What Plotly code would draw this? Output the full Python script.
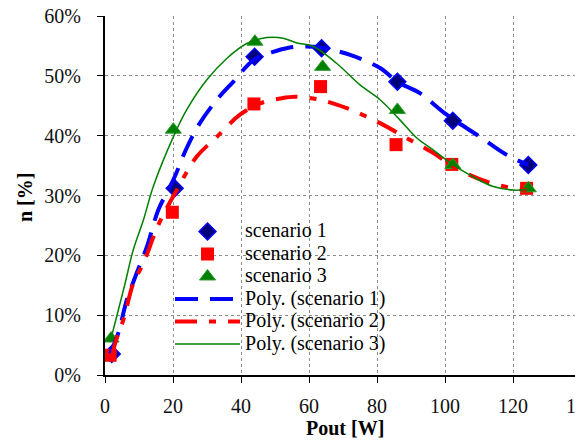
import plotly.graph_objects as go

# ---- data ----
s1_x = [2, 20.5, 44, 63.7, 86, 102.3, 124.5]
s1_y = [0.035, 0.312, 0.532, 0.546, 0.490, 0.425, 0.351]

s2_x = [1.5, 19.8, 43.8, 63.4, 85.6, 102, 124]
s2_y = [0.033, 0.272, 0.453, 0.482, 0.385, 0.352, 0.312]

s3_x = [1.8, 20.1, 44.1, 64, 86, 102.3, 124.5]
s3_y = [0.061, 0.410, 0.557, 0.515, 0.443, 0.351, 0.312]

# trendlines (Excel polynomial)
p1_x = [1.5, 3.9, 6.4, 9.3, 12.3, 15.7, 20.1, 24, 27.9, 32.9, 37.7, 43.6, 49.5, 54, 59.3, 63.7, 72.1, 80.9, 86, 92.6, 100.5, 110.3, 118.1, 124.5]
p1_y = [0.036, 0.070, 0.125, 0.170, 0.214, 0.276, 0.326, 0.379, 0.421, 0.460, 0.490, 0.526, 0.540, 0.547, 0.549, 0.547, 0.535, 0.513, 0.490, 0.471, 0.435, 0.398, 0.368, 0.351]

p2_x = [2, 3.4, 5.4, 8.3, 11.3, 15.7, 21.1, 27, 32.9, 39.7, 45.6, 51.5, 55.9, 63.2, 71.1, 80.9, 88.7, 96.6, 103.4, 112.3, 120.1, 124]
p2_y = [0.031, 0.061, 0.092, 0.153, 0.187, 0.251, 0.309, 0.365, 0.398, 0.435, 0.454, 0.462, 0.465, 0.460, 0.446, 0.421, 0.396, 0.371, 0.345, 0.323, 0.312, 0.309]

p3_x = [1.5, 3.4, 5.9, 8.3, 11.3, 14.2, 20.1, 24, 29.9, 35.8, 41.7, 47.6, 52.4, 56.4, 61.3, 68.1, 75, 80.9, 86.8, 91.7, 96.6, 102.4, 108.3, 114.2, 120.1, 124]
p3_y = [0.055, 0.097, 0.153, 0.209, 0.259, 0.315, 0.398, 0.443, 0.493, 0.529, 0.554, 0.564, 0.563, 0.555, 0.549, 0.521, 0.485, 0.460, 0.426, 0.396, 0.376, 0.351, 0.331, 0.315, 0.309, 0.310]

names = ["scenario 1", "scenario 2", "scenario 3",
         "Poly. (scenario 1)", "Poly. (scenario 2)", "Poly. (scenario 3)"]

x_title = "Pout [W]"
y_title = "n [%]"

x_ticks = [0, 20, 40, 60, 80, 100, 120, 140]
y_ticks = [0, 0.1, 0.2, 0.3, 0.4, 0.5, 0.6]

FONT = "Liberation Serif"


def lbl(t):
    return '<span style="font-size:20px">' + t + '</span>'


fig = go.Figure()
fig.add_trace(go.Scatter(x=s1_x, y=s1_y, mode="markers", name=lbl(names[0]),
                         marker=dict(symbol="diamond", size=13, color="#00007A",
                                     line=dict(color="#0000FF", width=1.5))))
fig.add_trace(go.Scatter(x=s2_x, y=s2_y, mode="markers", name=lbl(names[1]),
                         marker=dict(symbol="square", size=13, color="#FF0000",
                                     line=dict(width=0))))
fig.add_trace(go.Scatter(x=s3_x, y=s3_y, mode="markers", name=lbl(names[2]),
                         marker=dict(symbol="triangle-up", size=14, color="#008000",
                                     line=dict(color="#2E9E2E", width=1))))
fig.add_trace(go.Scatter(x=p1_x, y=p1_y, mode="lines", name=lbl(names[3]),
                         line=dict(color="#0000FF", width=4, dash="23px,12px", shape="spline")))
fig.add_trace(go.Scatter(x=p2_x, y=p2_y, mode="lines", name=lbl(names[4]),
                         line=dict(color="#FF0000", width=4, dash="22px,12px,7px,12px", shape="spline")))
fig.add_trace(go.Scatter(x=p3_x, y=p3_y, mode="lines", name=lbl(names[5]),
                         line=dict(color="#008000", width=1.5, shape="spline")))

# white legend background that hides the gridlines but not the curves
fig.add_shape(type="rect", xref="paper", yref="paper",
              x0=0.0945, x1=0.647, y0=0.050, y1=0.426,
              fillcolor="white", line=dict(width=0), layer="between")

# axis titles
fig.add_annotation(text="<b>" + x_title + "</b>", xref="paper", yref="paper",
                   x=0.505, y=-0.1476, xanchor="center", yanchor="middle", showarrow=False,
                   font=dict(family=FONT, size=20, color="black"))
fig.add_annotation(text="<b>" + y_title + "</b>", xref="paper", yref="paper",
                   x=-0.168, y=0.493, xanchor="center", yanchor="middle", showarrow=False,
                   textangle=-90, font=dict(family=FONT, size=20, color="black"))

axis_common = dict(
    showline=True, linecolor="black", linewidth=2, automargin=False,
    ticks="outside", ticklen=6, tickcolor="black", tickwidth=1,
    showgrid=True, gridcolor="#8c8c8c", gridwidth=1, griddash="dot",
    zeroline=False, tickfont=dict(family=FONT, size=20, color="#111"),
)

fig.update_layout(
    template="none",
    width=600, height=444, autosize=False,
    margin=dict(l=105, r=19, t=16, b=69, pad=0),
    paper_bgcolor="white", plot_bgcolor="white",
    font=dict(family=FONT, color="black"),
    xaxis=dict(range=[0, 140], tickvals=x_ticks, ticklabelstandoff=6, **axis_common),
    yaxis=dict(range=[0, 0.6], tickvals=y_ticks, tickformat=".0%", ticklabelstandoff=12,
               **axis_common),
    legend=dict(x=0.1366, xanchor="left", y=0.445, yanchor="top",
                bgcolor="rgba(0,0,0,0)", borderwidth=0, itemwidth=65,
                font=dict(family=FONT, size=15, color="black"),
                tracegroupgap=0),
    showlegend=True,
)

fig.write_html("out.html", config={"displayModeBar": False},
               post_script="document.body.style.margin='0';document.body.style.overflow='hidden';")
